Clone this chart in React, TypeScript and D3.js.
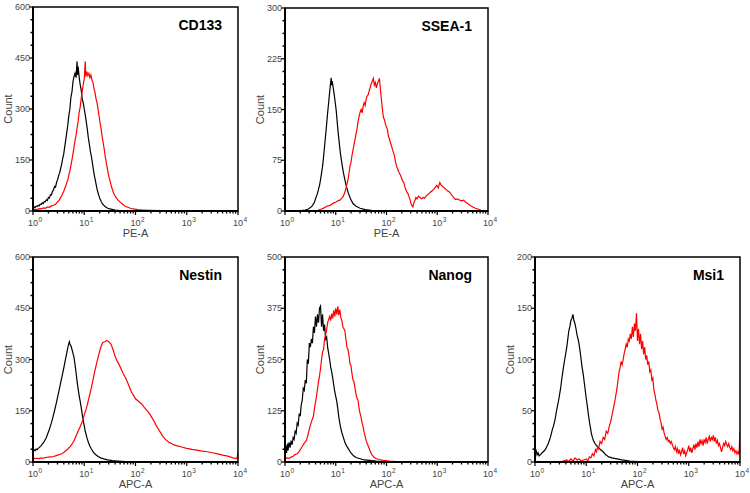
import React from 'react';
import * as d3 from 'd3';

// ---------- labels / scales ----------
const titles = ['CD133', 'SSEA-1', 'Nestin', 'Nanog', 'Msi1'];
const xLabels = ['PE-A', 'PE-A', 'APC-A', 'APC-A', 'APC-A'];
const yMaxes = [600, 300, 600, 500, 200];
const ySteps = [150, 75, 150, 125, 50];
const xDecades = [0, 1, 2, 3, 4];

// ---------- data: [log10 fluorescence, count] ----------
type P = [number, number];

const cd133Control: P[] = [[0,8],[0.02,12],[0.04,10],[0.06,14],[0.08,13],[0.1,17],[0.12,15],[0.14,20],[0.16,19],[0.18,24],[0.2,22],[0.22,28],[0.24,27],[0.26,33],[0.28,31],[0.3,40],[0.32,38],[0.34,48],[0.36,47],[0.38,58],[0.4,62],[0.42,72],[0.44,70],[0.46,85],[0.48,92],[0.5,104],[0.52,112],[0.54,125],[0.56,138],[0.58,155],[0.6,168],[0.62,190],[0.64,210],[0.66,232],[0.68,255],[0.7,282],[0.72,300],[0.74,335],[0.76,350],[0.78,380],[0.8,395],[0.82,405],[0.84,392],[0.86,440],[0.87,400],[0.88,425],[0.9,395],[0.92,372],[0.94,356],[0.96,330],[0.98,318],[1.0,300],[1.02,282],[1.04,262],[1.06,240],[1.08,215],[1.1,196],[1.12,175],[1.14,160],[1.16,140],[1.18,120],[1.2,102],[1.22,88],[1.24,72],[1.26,58],[1.28,48],[1.3,38],[1.33,28],[1.36,20],[1.4,14],[1.45,9],[1.5,6],[1.6,3],[1.7,1.5],[1.85,0.5],[2.0,0]];
const cd133Stain: P[] = [[0,3],[0.04,5],[0.08,4],[0.12,7],[0.16,6],[0.2,9],[0.24,8],[0.28,12],[0.32,11],[0.36,15],[0.4,17],[0.44,20],[0.48,27],[0.5,30],[0.52,34],[0.54,40],[0.56,44],[0.58,52],[0.6,58],[0.62,66],[0.64,74],[0.66,84],[0.68,92],[0.7,106],[0.72,118],[0.74,134],[0.76,150],[0.78,168],[0.8,188],[0.82,208],[0.84,222],[0.86,245],[0.88,262],[0.9,290],[0.92,305],[0.94,330],[0.96,352],[0.98,372],[1.0,390],[1.02,440],[1.03,395],[1.05,410],[1.07,398],[1.09,405],[1.11,392],[1.13,400],[1.15,385],[1.17,378],[1.19,360],[1.21,348],[1.23,330],[1.25,318],[1.27,298],[1.29,278],[1.31,258],[1.33,240],[1.35,218],[1.37,200],[1.39,182],[1.41,160],[1.43,142],[1.45,125],[1.47,108],[1.5,90],[1.53,72],[1.56,58],[1.59,47],[1.62,40],[1.66,32],[1.7,26],[1.75,20],[1.8,14],[1.85,11],[1.9,8],[1.95,6],[2.05,4],[2.15,3],[2.3,2],[2.5,1],[2.8,0.5],[3.0,0]];

const ssea1Control: P[] = [[0,0],[0.2,0.3],[0.3,0.6],[0.4,1.5],[0.46,3],[0.5,5],[0.54,8],[0.58,13],[0.6,18],[0.62,22],[0.64,26],[0.66,32],[0.68,38],[0.7,46],[0.72,56],[0.74,66],[0.76,80],[0.78,96],[0.8,112],[0.82,128],[0.84,145],[0.86,160],[0.88,176],[0.9,190],[0.91,197],[0.92,186],[0.93,192],[0.95,182],[0.97,172],[0.99,160],[1.01,148],[1.03,130],[1.05,114],[1.07,100],[1.09,86],[1.11,76],[1.13,66],[1.15,57],[1.18,46],[1.21,36],[1.25,26],[1.29,18],[1.34,11],[1.4,7],[1.48,4],[1.58,2],[1.7,1],[1.9,0.3],[2.1,0]];
const ssea1Stain: P[] = [[0.56,0],[0.65,1],[0.72,3],[0.78,5],[0.82,7],[0.88,8],[0.92,10],[0.96,12],[1.0,13],[1.04,15],[1.08,16],[1.12,19],[1.15,22],[1.18,28],[1.21,36],[1.24,46],[1.26,55],[1.28,66],[1.3,72],[1.32,82],[1.34,90],[1.36,98],[1.38,106],[1.4,114],[1.42,122],[1.44,132],[1.46,140],[1.48,146],[1.5,150],[1.52,145],[1.54,155],[1.56,160],[1.58,156],[1.6,166],[1.62,170],[1.64,172],[1.66,178],[1.68,183],[1.7,188],[1.72,192],[1.74,196],[1.76,186],[1.78,190],[1.8,182],[1.82,188],[1.84,192],[1.86,196],[1.88,180],[1.9,165],[1.92,150],[1.94,138],[1.96,135],[1.98,128],[2.0,124],[2.02,120],[2.04,110],[2.06,106],[2.08,100],[2.1,96],[2.12,90],[2.14,86],[2.16,80],[2.18,72],[2.2,66],[2.22,62],[2.24,58],[2.26,55],[2.28,52],[2.3,48],[2.32,44],[2.34,42],[2.36,36],[2.38,32],[2.4,28],[2.42,26],[2.44,22],[2.46,18],[2.48,12],[2.5,8],[2.52,6],[2.54,12],[2.56,16],[2.58,20],[2.6,18],[2.63,22],[2.66,20],[2.69,18],[2.72,20],[2.75,19],[2.78,22],[2.81,24],[2.84,26],[2.87,28],[2.9,30],[2.93,32],[2.96,35],[2.99,38],[3.02,34],[3.05,42],[3.08,38],[3.11,36],[3.14,34],[3.17,32],[3.2,30],[3.24,28],[3.28,24],[3.32,20],[3.36,17],[3.4,18],[3.44,16],[3.48,15],[3.52,16],[3.56,13],[3.6,11],[3.65,8],[3.7,6],[3.75,4],[3.8,3],[3.86,1],[3.92,0]];

const nestinControl: P[] = [[0,30],[0.02,36],[0.04,33],[0.06,38],[0.08,36],[0.1,40],[0.12,42],[0.14,45],[0.16,48],[0.18,52],[0.2,56],[0.22,60],[0.24,66],[0.26,72],[0.28,80],[0.3,88],[0.32,96],[0.34,105],[0.36,115],[0.38,126],[0.4,138],[0.42,150],[0.44,163],[0.46,176],[0.48,190],[0.5,204],[0.52,218],[0.54,232],[0.56,246],[0.58,260],[0.6,275],[0.62,290],[0.64,305],[0.66,320],[0.68,335],[0.7,348],[0.71,352],[0.72,345],[0.74,340],[0.76,330],[0.78,318],[0.8,306],[0.82,285],[0.84,262],[0.86,236],[0.88,215],[0.9,195],[0.92,178],[0.94,160],[0.96,140],[0.98,122],[1.0,106],[1.02,90],[1.05,72],[1.08,58],[1.11,46],[1.14,38],[1.18,28],[1.22,22],[1.27,16],[1.32,12],[1.38,9],[1.45,6],[1.55,4],[1.65,3],[1.8,1.5],[1.95,0.5],[2.1,0]];
const nestinStain: P[] = [[0,280],[0.005,12],[0.04,10],[0.08,11],[0.12,10],[0.16,12],[0.2,11],[0.24,13],[0.28,14],[0.32,15],[0.36,15],[0.4,16],[0.44,18],[0.48,20],[0.52,22],[0.56,24],[0.6,28],[0.64,33],[0.68,38],[0.72,44],[0.76,52],[0.8,62],[0.84,76],[0.88,90],[0.92,103],[0.96,118],[1.0,138],[1.04,156],[1.08,180],[1.12,205],[1.16,232],[1.2,262],[1.24,288],[1.28,312],[1.32,335],[1.36,350],[1.4,352],[1.44,356],[1.48,352],[1.52,345],[1.56,330],[1.6,310],[1.64,296],[1.68,285],[1.72,272],[1.76,258],[1.8,248],[1.84,235],[1.88,220],[1.92,205],[1.96,195],[2.0,185],[2.04,180],[2.08,175],[2.12,170],[2.16,162],[2.2,155],[2.24,148],[2.28,140],[2.32,130],[2.36,120],[2.4,108],[2.44,98],[2.48,88],[2.52,78],[2.56,70],[2.6,64],[2.65,58],[2.7,54],[2.75,50],[2.8,48],[2.9,44],[3.0,40],[3.1,37],[3.2,35],[3.3,32],[3.4,30],[3.5,27],[3.6,24],[3.7,20],[3.8,17],[3.9,12],[3.98,10],[4.0,30]];

const nanogControl: P[] = [[0,15],[0.02,40],[0.03,22],[0.05,45],[0.06,28],[0.08,48],[0.1,35],[0.12,52],[0.14,42],[0.16,60],[0.18,55],[0.2,75],[0.22,70],[0.24,95],[0.26,90],[0.28,118],[0.3,112],[0.32,140],[0.34,150],[0.36,180],[0.38,175],[0.4,200],[0.42,192],[0.44,250],[0.46,240],[0.48,290],[0.5,280],[0.52,300],[0.54,290],[0.56,330],[0.58,315],[0.6,355],[0.62,330],[0.64,360],[0.66,340],[0.68,375],[0.7,380],[0.72,330],[0.74,360],[0.76,320],[0.78,335],[0.8,300],[0.82,305],[0.84,280],[0.86,265],[0.88,250],[0.9,232],[0.92,220],[0.94,205],[0.96,188],[0.98,172],[1.0,160],[1.02,148],[1.04,130],[1.06,110],[1.08,95],[1.1,82],[1.12,72],[1.15,60],[1.18,48],[1.21,40],[1.25,32],[1.3,22],[1.35,15],[1.4,11],[1.48,8],[1.56,5],[1.67,4],[1.8,2],[1.95,1],[2.1,0]];
const nanogStain: P[] = [[0,60],[0.01,8],[0.04,10],[0.08,9],[0.12,12],[0.16,14],[0.2,18],[0.24,20],[0.28,26],[0.3,30],[0.33,36],[0.36,42],[0.39,48],[0.42,52],[0.45,65],[0.48,80],[0.5,90],[0.52,98],[0.54,105],[0.56,112],[0.58,130],[0.6,145],[0.62,160],[0.64,178],[0.66,195],[0.68,210],[0.7,228],[0.72,250],[0.74,268],[0.76,275],[0.78,300],[0.8,310],[0.82,322],[0.84,340],[0.86,348],[0.88,355],[0.9,345],[0.92,362],[0.94,350],[0.96,370],[0.98,355],[1.0,375],[1.02,360],[1.04,380],[1.06,358],[1.08,372],[1.1,352],[1.12,345],[1.14,330],[1.16,325],[1.18,320],[1.2,300],[1.22,280],[1.24,275],[1.26,260],[1.28,240],[1.3,235],[1.32,215],[1.34,200],[1.36,195],[1.38,180],[1.4,165],[1.42,155],[1.44,150],[1.46,130],[1.48,118],[1.5,108],[1.52,95],[1.54,85],[1.56,72],[1.58,62],[1.6,52],[1.62,45],[1.65,36],[1.68,26],[1.71,18],[1.75,12],[1.8,8],[1.86,6],[1.93,4],[2.05,2],[2.2,1],[2.4,0]];

const msi1Control: P[] = [[0,8],[0.02,12],[0.04,7],[0.06,9],[0.08,6],[0.1,7],[0.12,8],[0.14,9],[0.16,10],[0.18,11],[0.2,12],[0.22,14],[0.24,16],[0.26,18],[0.28,21],[0.3,24],[0.32,28],[0.34,32],[0.36,35],[0.38,39],[0.4,44],[0.42,50],[0.44,55],[0.46,60],[0.48,66],[0.5,72],[0.52,80],[0.54,87],[0.56,94],[0.58,100],[0.6,106],[0.62,112],[0.64,120],[0.66,128],[0.68,132],[0.7,138],[0.72,140],[0.74,144],[0.76,138],[0.78,135],[0.8,130],[0.82,124],[0.84,120],[0.86,115],[0.88,108],[0.9,100],[0.92,92],[0.94,86],[0.96,78],[0.98,70],[1.0,62],[1.02,55],[1.04,47],[1.06,40],[1.08,34],[1.1,28],[1.12,24],[1.14,21],[1.17,18],[1.2,16],[1.24,14],[1.28,12],[1.33,10],[1.38,7],[1.44,5],[1.5,4],[1.6,3],[1.7,2],[1.85,1],[2.0,0.3],[2.1,0]];
const msi1Stain: P[] = [[0.49,0],[0.55,1],[0.62,2],[0.66,0.5],[0.7,3],[0.74,1],[0.78,4],[0.82,2],[0.86,3],[0.9,1],[0.95,2],[1.0,3],[1.03,1],[1.06,5],[1.09,4],[1.12,8],[1.15,6],[1.18,12],[1.2,10],[1.22,15],[1.24,13],[1.27,20],[1.3,18],[1.33,24],[1.36,22],[1.39,30],[1.42,28],[1.45,35],[1.48,40],[1.5,45],[1.52,50],[1.54,55],[1.56,60],[1.58,66],[1.6,72],[1.62,80],[1.64,88],[1.66,92],[1.68,98],[1.7,95],[1.72,100],[1.74,106],[1.76,110],[1.78,115],[1.8,112],[1.82,120],[1.84,118],[1.86,125],[1.88,120],[1.9,132],[1.92,122],[1.94,135],[1.96,128],[1.98,145],[2.0,118],[2.02,130],[2.04,115],[2.06,125],[2.08,110],[2.1,118],[2.12,105],[2.14,112],[2.16,100],[2.18,104],[2.2,95],[2.22,98],[2.24,88],[2.26,90],[2.28,80],[2.3,82],[2.32,70],[2.34,66],[2.36,60],[2.38,56],[2.4,50],[2.42,48],[2.44,42],[2.46,38],[2.48,32],[2.5,34],[2.52,28],[2.54,25],[2.56,22],[2.58,24],[2.6,20],[2.62,21],[2.64,18],[2.66,20],[2.68,17],[2.7,14],[2.72,12],[2.74,15],[2.76,10],[2.78,13],[2.8,8],[2.82,12],[2.84,7],[2.86,10],[2.88,14],[2.9,8],[2.92,11],[2.94,6],[2.96,9],[2.98,12],[3.0,16],[3.02,10],[3.04,14],[3.06,9],[3.08,13],[3.1,17],[3.12,12],[3.14,18],[3.16,14],[3.18,20],[3.2,15],[3.22,22],[3.24,18],[3.26,21],[3.28,16],[3.3,22],[3.32,19],[3.34,24],[3.36,18],[3.38,22],[3.4,25],[3.42,20],[3.44,24],[3.46,22],[3.48,26],[3.5,20],[3.52,24],[3.54,18],[3.56,21],[3.58,16],[3.6,18],[3.62,14],[3.64,10],[3.66,14],[3.68,18],[3.7,16],[3.72,20],[3.74,17],[3.76,15],[3.78,18],[3.8,14],[3.82,12],[3.84,15],[3.86,11],[3.88,13],[3.9,9],[3.92,11],[3.94,8],[3.96,10],[3.98,7],[4.0,30]];

const controls = [cd133Control, ssea1Control, nestinControl, nanogControl, msi1Control];
const stains = [cd133Stain, ssea1Stain, nestinStain, nanogStain, msi1Stain];

// ---------- layout ----------
const boxes = [
  { x0: 33, x1: 238, y0: 7, y1: 211 },
  { x0: 285, x1: 488, y0: 8, y1: 211 },
  { x0: 33, x1: 238, y0: 257, y1: 462 },
  { x0: 285, x1: 488, y0: 257, y1: 462 },
  { x0: 535, x1: 740, y0: 257, y1: 462 },
];

const FONT = "Arial, 'Liberation Sans', sans-serif";

function Panel({ i }: { i: number }) {
  const b = boxes[i];
  const xs = d3.scaleLog().domain([1, 1e4]).range([b.x0, b.x1]);
  const ys = d3.scaleLinear().domain([0, yMaxes[i]]).range([b.y1, b.y0]);
  const line = d3
    .line<P>()
    .x((d) => xs(Math.pow(10, d[0])))
    .y((d) => ys(Math.max(0, d[1])));
  const majorY = d3.range(0, yMaxes[i] + 0.001, ySteps[i]);
  const minorY = d3.range(0, yMaxes[i] + 0.001, ySteps[i] / 4).filter((v) => !majorY.some((m) => Math.abs(m - v) < 1e-6));
  const allX = xs.ticks();
  const minorX = allX.filter((v) => !xDecades.some((e) => Math.abs(Math.pow(10, e) - v) < 1e-6));
  const clipId = `clip${i}`;
  return (
    <g>
      <defs>
        <clipPath id={clipId}>
          <rect x={b.x0} y={b.y0 - 1} width={b.x1 - b.x0} height={b.y1 - b.y0 + 1} />
        </clipPath>
      </defs>
      <g clipPath={`url(#${clipId})`}>
        <path d={line(controls[i]) || ''} fill="none" stroke="#000" strokeWidth={1.2} />
        <path d={line(stains[i]) || ''} fill="none" stroke="#ff0000" strokeWidth={1.2} />
      </g>
      {/* frame */}
      <rect x={b.x0} y={b.y0} width={b.x1 - b.x0} height={b.y1 - b.y0} fill="none" stroke="#000" strokeWidth={1.5} />
      <line x1={b.x0} x2={b.x0} y1={b.y0} y2={b.y1 + 1} stroke="#000" strokeWidth={2} />
      <line x1={b.x0} x2={b.x1} y1={b.y1} y2={b.y1} stroke="#000" strokeWidth={2} />
      {/* y ticks */}
      {minorY.map((v) => (
        <line key={'my' + v} x1={b.x0 - 2.5} x2={b.x0} y1={ys(v)} y2={ys(v)} stroke="#000" strokeWidth={1.5} />
      ))}
      {majorY.map((v) => (
        <g key={'My' + v}>
          <line x1={b.x0 - 4} x2={b.x0} y1={ys(v)} y2={ys(v)} stroke="#000" strokeWidth={1.2} />
          <text x={b.x0 - 3} y={ys(v) + 3} textAnchor="end" fontSize={9} fill="#444" fontFamily={FONT}>
            {v}
          </text>
        </g>
      ))}
      {/* x ticks */}
      {minorX.map((v) => (
        <line key={'mx' + v} x1={xs(v)} x2={xs(v)} y1={b.y1} y2={b.y1 + 2.5} stroke="#000" strokeWidth={1.3} />
      ))}
      {xDecades.map((e) => {
        const x = xs(Math.pow(10, e));
        return (
          <g key={'Mx' + e}>
            <line x1={x} x2={x} y1={b.y1} y2={b.y1 + 4} stroke="#000" strokeWidth={1.2} />
            <text x={x} y={b.y1 + 15} textAnchor="middle" fontSize={9} fill="#444" fontFamily={FONT}>
              10
            </text>
            <text x={x + 5.5} y={b.y1 + 11} textAnchor="start" fontSize={6.5} fill="#444" fontFamily={FONT}>
              {e}
            </text>
          </g>
        );
      })}
      {/* axis labels */}
      <text x={(b.x0 + b.x1) / 2} y={b.y1 + 26} textAnchor="middle" fontSize={11} fill="#444" fontFamily={FONT}>
        {xLabels[i]}
      </text>
      <text
        transform={`translate(${b.x0 - 21},${(b.y0 + b.y1) / 2}) rotate(-90)`}
        textAnchor="middle"
        fontSize={11}
        fill="#444"
        fontFamily={FONT}
      >
        Count
      </text>
      {/* title */}
      <text x={b.x1 - 16} y={b.y0 + 23} textAnchor="end" fontSize={14} fontWeight="bold" fill="#000" fontFamily={FONT}>
        {titles[i]}
      </text>
    </g>
  );
}

export default function App() {
  return (
    <svg
      width={750}
      height={493}
      viewBox="0 0 750 493"
      style={{ position: 'absolute', left: 0, top: 0, background: '#fff', display: 'block' }}
    >
      <rect width={750} height={493} fill="#fff" />
      {titles.map((_, i) => (
        <Panel key={i} i={i} />
      ))}
    </svg>
  );
}
